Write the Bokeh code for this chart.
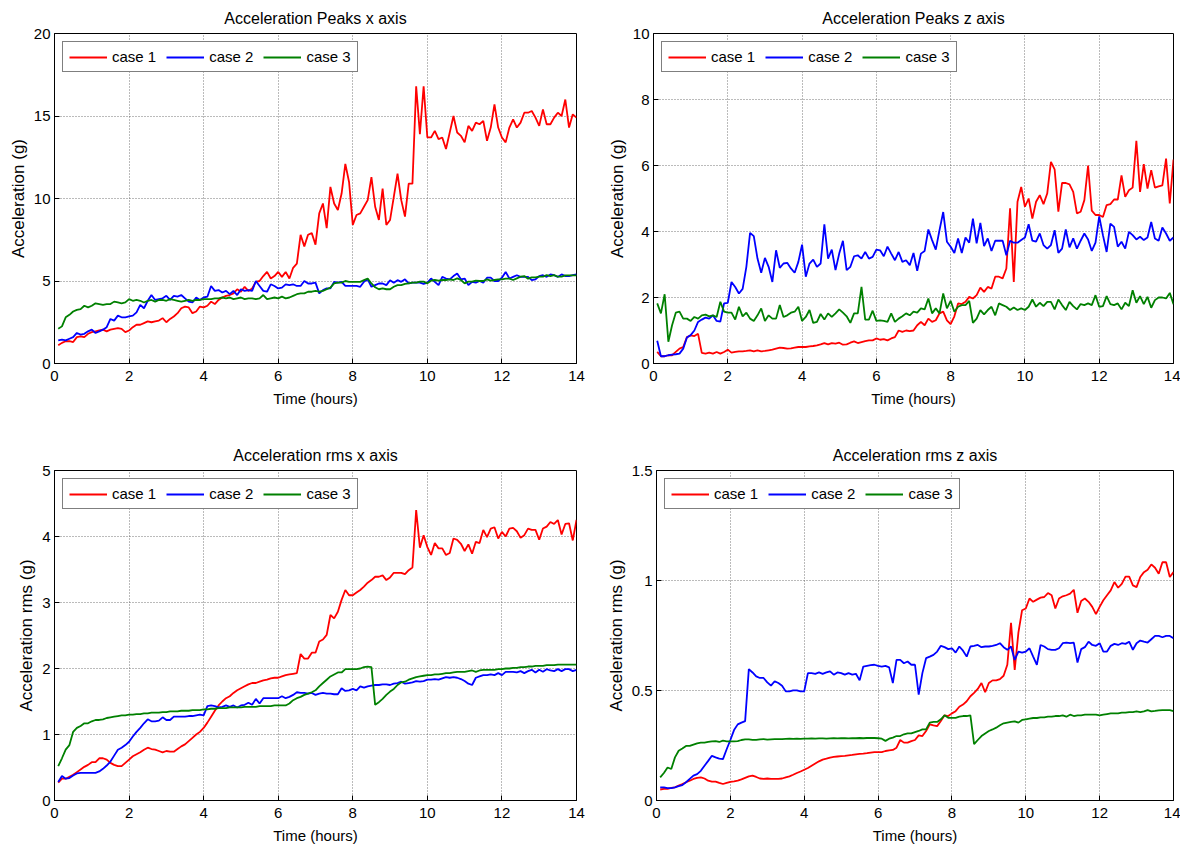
from bokeh.plotting import figure
from bokeh.layouts import column, row
from bokeh.models import Range1d, FixedTicker
from bokeh.embed import file_html
from bokeh.resources import INLINE

# ---------------- data ----------------
TIME_H = [round(0.1 * k, 1) for k in range(1, 141)]
CASES = ["case 1", "case 2", "case 3"]
COLORS = ["#ff0000", "#0000ff", "#008000"]
X_TICKS = [0, 2, 4, 6, 8, 10, 12, 14]

TITLES = ["Acceleration Peaks x axis", "Acceleration Peaks z axis",
          "Acceleration rms x axis", "Acceleration rms z axis"]
YLABELS = ["Acceleration (g)", "Acceleration (g)",
           "Acceleration rms (g)", "Acceleration rms (g)"]
YMAX = [20, 10, 5, 1.5]
Y_TICKS = [[0, 5, 10, 15, 20], [0, 2, 4, 6, 8, 10], [0, 1, 2, 3, 4, 5], [0, 0.5, 1, 1.5]]
Y_TICK_LABELS = [["0", "5", "10", "15", "20"], ["0", "2", "4", "6", "8", "10"],
                 ["0", "1", "2", "3", "4", "5"], ["0", "0.5", "1", "1.5"]]

# Acceleration peaks, x axis
PX_CASE1 = [1.1, 1.25, 1.35, 1.35, 1.3, 1.6, 1.65, 1.6, 1.8, 1.9,
            1.95, 2.0, 2.05, 1.95, 2.05, 2.1, 2.15, 2.1, 1.9, 2.0,
            2.2, 2.35, 2.35, 2.45, 2.55, 2.5, 2.55, 2.6, 2.75, 2.5,
            2.7, 2.85, 3.05, 3.35, 3.45, 3.4, 3.05, 3.15, 3.45, 3.4,
            3.5, 3.75, 3.6, 3.85, 4.0, 4.1, 4.15, 4.25, 4.5, 4.35,
            4.65, 4.4, 4.55, 4.95, 5.0, 5.3, 5.55, 5.15, 5.3, 5.55,
            5.25, 5.55, 5.15, 5.8, 6.05, 7.8, 7.1, 7.8, 7.9, 7.2,
            9.1, 9.7, 8.2, 10.7, 9.7, 9.3, 10.3, 12.1, 11.0, 8.4,
            9.0, 9.1, 9.5, 9.9, 11.3, 9.5, 8.7, 10.6, 8.4, 8.7,
            10.1, 11.5, 9.9, 8.9, 10.9, 10.9, 16.8, 13.9, 16.8, 13.7,
            13.7, 14.1, 13.6, 13.7, 13.0, 14.0, 15.0, 14.0, 13.8, 13.4,
            14.4, 14.1, 14.6, 14.5, 14.7, 13.5, 14.3, 15.7, 14.3, 13.7,
            13.4, 14.3, 14.8, 14.3, 14.6, 15.2, 15.2, 15.3, 14.9, 14.4,
            15.4, 14.5, 14.5, 14.9, 15.2, 15.0, 16.0, 14.3, 15.1, 14.9]
PX_CASE2 = [1.4, 1.45, 1.4, 1.5, 1.6, 1.85, 1.75, 1.8, 1.95, 2.05,
            1.85, 1.95, 2.05, 2.2, 2.7, 2.6, 2.9, 2.8, 2.8, 2.85,
            2.9, 3.1, 3.55, 3.35, 3.8, 4.15, 3.85, 3.9, 3.95, 4.1,
            3.85, 4.1, 4.05, 4.15, 3.95, 3.75, 3.7, 4.0, 3.85, 4.0,
            4.05, 4.7, 4.4, 4.45, 4.3, 4.4, 4.2, 4.4, 4.15, 4.5,
            4.4, 4.45, 4.4, 5.0, 4.7, 4.4, 4.35, 4.8, 4.7, 4.55,
            4.6, 4.8, 4.75, 4.8, 4.7, 4.7, 5.0, 4.85, 4.85, 4.9,
            4.25, 4.45, 4.55, 4.55, 4.95, 4.9, 4.95, 4.7, 4.7, 4.7,
            4.7, 4.65, 4.95, 5.1, 4.65, 4.75, 4.85, 4.85, 4.75, 5.05,
            4.9, 5.05, 4.95, 5.1, 4.85, 4.9, 4.9, 4.9, 4.82, 4.9,
            5.15, 4.95, 4.75, 5.25, 5.15, 5.1, 5.3, 5.45, 5.1, 5.15,
            4.75, 4.95, 4.9, 5.0, 4.9, 5.2, 5.2, 5.0, 5.0, 5.2,
            5.55, 5.15, 5.25, 5.35, 5.25, 5.25, 5.25, 5.05, 5.1, 5.3,
            5.35, 5.25, 5.4, 5.35, 5.25, 5.4, 5.3, 5.3, 5.35, 5.4]
PX_CASE3 = [2.1, 2.25, 2.8, 2.95, 3.15, 3.25, 3.3, 3.5, 3.4, 3.5,
            3.65, 3.6, 3.55, 3.6, 3.6, 3.75, 3.7, 3.65, 3.7, 3.9,
            3.8, 3.85, 3.8, 3.7, 3.8, 3.85, 3.75, 3.85, 3.85, 3.8,
            3.9, 3.85, 3.8, 3.75, 3.8, 3.85, 3.8, 3.85, 3.85, 3.9,
            3.9, 3.9, 3.95, 3.95, 4.0, 3.95, 4.0, 3.9, 3.95, 4.0,
            3.9, 3.95, 3.95, 3.9, 3.95, 4.15, 3.9, 3.95, 4.0, 3.95,
            4.05, 3.95, 4.0, 4.1, 4.2, 4.25, 4.25, 4.35, 4.35, 4.4,
            4.35, 4.4, 4.5, 4.6, 4.85, 4.9, 4.9, 5.0, 4.95, 4.95,
            4.95, 4.95, 5.05, 5.15, 4.85, 4.62, 4.5, 4.55, 4.5, 4.5,
            4.65, 4.75, 4.75, 4.82, 4.86, 4.9, 4.9, 4.96, 4.96, 4.86,
            5.02, 5.06, 5.02, 5.06, 5.06, 5.1, 5.06, 5.16, 5.06, 4.86,
            4.96, 4.96, 5.02, 5.0, 5.0, 5.1, 5.02, 5.06, 5.1, 5.1,
            5.14, 5.14, 5.06, 5.16, 5.26, 5.3, 5.14, 5.22, 5.22, 5.26,
            5.26, 5.36, 5.3, 5.36, 5.26, 5.26, 5.34, 5.34, 5.34, 5.34]

# Acceleration peaks, z axis
PZ_CASE1 = [0.35, 0.22, 0.22, 0.25, 0.25, 0.35, 0.45, 0.5, 0.8, 0.85,
            0.83, 0.9, 0.32, 0.3, 0.33, 0.3, 0.35, 0.3, 0.35, 0.42,
            0.33, 0.35, 0.37, 0.37, 0.38, 0.4, 0.37, 0.4, 0.37, 0.38,
            0.4, 0.42, 0.45, 0.48, 0.47, 0.45, 0.46, 0.48, 0.5, 0.5,
            0.5, 0.52, 0.53, 0.55, 0.58, 0.62, 0.58, 0.62, 0.6, 0.63,
            0.57, 0.58, 0.63, 0.67, 0.62, 0.65, 0.68, 0.7, 0.7, 0.76,
            0.72, 0.74, 0.7, 0.76, 0.8, 1.0, 0.96, 1.0, 0.98, 1.0,
            1.16, 1.26, 1.16, 1.36, 1.26, 1.31, 1.52, 1.57, 1.31, 1.19,
            1.43, 1.82, 1.8, 1.87, 2.02, 1.97, 2.07, 2.3, 2.17, 2.32,
            2.27, 2.63, 2.63, 2.58, 2.88, 4.7, 2.47, 4.9, 5.35, 4.75,
            5.0, 4.39, 4.9, 5.1, 4.83, 5.15, 6.11, 5.88, 4.6, 5.47,
            5.47, 5.43, 5.2, 4.55, 4.6, 4.95, 6.0, 4.63, 4.5, 4.5,
            4.44, 4.8, 4.83, 4.97, 4.97, 5.7, 5.05, 5.25, 5.33, 6.75,
            5.2, 6.04, 5.3, 5.86, 5.33, 5.37, 5.4, 6.21, 4.85, 6.18]
PZ_CASE2 = [0.69, 0.22, 0.22, 0.25, 0.27, 0.28, 0.3, 0.45, 0.79, 0.86,
            1.0, 1.26, 1.33, 1.39, 1.36, 1.46, 1.29, 1.27, 1.82, 1.84,
            2.47, 2.32, 2.12, 2.26, 2.93, 3.96, 3.86, 3.18, 2.75, 3.2,
            2.93, 2.47, 3.43, 2.9, 3.03, 3.05, 2.88, 2.75, 3.08, 3.6,
            2.63, 3.03, 3.15, 2.93, 3.03, 4.22, 3.18, 3.45, 2.83, 3.33,
            3.72, 2.83, 2.93, 3.25, 3.28, 3.18, 3.38, 3.18, 3.23, 3.45,
            3.43, 3.25, 3.54, 3.33, 3.13, 3.38, 3.08, 3.13, 2.98, 3.35,
            2.81, 3.33, 3.41, 4.06, 3.74, 3.45, 4.04, 4.59, 3.69, 3.54,
            3.35, 3.79, 3.35, 3.82, 3.66, 4.39, 3.64, 4.26, 3.56, 3.79,
            3.41, 3.72, 3.72, 3.72, 3.28, 3.72, 3.66, 3.66, 3.74, 3.82,
            4.22, 3.72, 3.69, 3.94, 3.59, 3.48, 3.59, 4.04, 3.35, 3.48,
            4.06, 3.52, 3.79, 3.48, 3.72, 3.94, 3.76, 3.41, 3.66, 4.46,
            3.89, 3.38, 4.24, 4.14, 3.54, 3.69, 3.48, 3.99, 3.89, 3.76,
            3.84, 3.74, 3.82, 4.29, 3.79, 3.72, 4.12, 3.94, 3.72, 3.82]
PZ_CASE3 = [1.82, 1.52, 2.1, 0.66, 1.16, 1.54, 1.57, 1.36, 1.36, 1.29,
            1.41, 1.36, 1.46, 1.48, 1.43, 1.46, 1.41, 1.87, 1.57, 1.54,
            1.54, 1.33, 1.72, 1.43, 1.54, 1.36, 1.29, 1.46, 1.67, 1.29,
            1.46, 1.36, 1.36, 1.77, 1.41, 1.46, 1.54, 1.57, 1.72, 1.29,
            1.41, 1.62, 1.23, 1.26, 1.5, 1.33, 1.52, 1.41, 1.52, 1.64,
            1.54, 1.43, 1.23, 1.52, 1.52, 2.32, 1.33, 1.33, 1.6, 1.29,
            1.31, 1.29, 1.26, 1.52, 1.26, 1.36, 1.43, 1.52, 1.46, 1.57,
            1.54, 1.67, 1.64, 1.97, 1.52, 1.67, 1.52, 2.12, 1.67, 1.9,
            1.57, 1.72, 1.77, 1.77, 1.9, 1.23, 1.36, 1.62, 1.49, 1.62,
            1.72, 1.46, 1.82, 1.77, 1.72, 1.62, 1.7, 1.62, 1.67, 1.62,
            1.72, 1.94, 1.72, 1.84, 1.74, 1.87, 1.87, 1.64, 1.94, 1.77,
            1.62, 1.87, 1.74, 1.64, 1.8, 1.77, 1.82, 1.77, 2.07, 1.72,
            1.74, 2.04, 1.8, 1.77, 1.82, 1.64, 1.84, 1.74, 2.22, 1.84,
            2.04, 1.8, 2.02, 1.69, 1.92, 2.0, 2.0, 1.97, 2.14, 1.8]

# Acceleration rms, x axis
RX_CASE1 = [0.27, 0.33, 0.33, 0.36, 0.39, 0.43, 0.47, 0.51, 0.54, 0.58,
            0.58, 0.64, 0.64, 0.62, 0.57, 0.54, 0.52, 0.52, 0.57, 0.62,
            0.67, 0.7, 0.73, 0.77, 0.8, 0.78, 0.77, 0.75, 0.73, 0.75,
            0.74, 0.74, 0.78, 0.82, 0.85, 0.9, 0.95, 1.0, 1.04, 1.1,
            1.18, 1.27, 1.36, 1.44, 1.5, 1.55, 1.58, 1.63, 1.67, 1.7,
            1.73, 1.76, 1.78, 1.78, 1.8, 1.82, 1.83, 1.85, 1.86, 1.86,
            1.88, 1.9, 1.91, 1.92, 1.93, 2.22, 2.15, 2.15, 2.24, 2.24,
            2.41, 2.44, 2.51, 2.81, 2.76, 2.86, 3.04, 3.19, 3.11, 3.11,
            3.15, 3.19, 3.24, 3.3, 3.34, 3.39, 3.39, 3.41, 3.34, 3.38,
            3.45, 3.45, 3.45, 3.43, 3.49, 3.53, 4.4, 3.83, 4.02, 3.84,
            3.72, 3.9, 3.82, 3.82, 3.72, 3.75, 3.97, 3.95, 3.89, 3.78,
            3.88, 3.74, 3.92, 3.9, 4.1, 3.99, 4.12, 4.14, 3.97, 4.07,
            4.0, 4.12, 4.13, 4.08, 3.98, 4.02, 4.12, 4.1, 4.1, 3.95,
            4.12, 4.15, 4.22, 4.19, 4.25, 4.03, 4.19, 4.2, 3.94, 4.25]
RX_CASE2 = [0.28, 0.37, 0.33, 0.34, 0.38, 0.41, 0.42, 0.42, 0.42, 0.42,
            0.42, 0.44, 0.48, 0.53, 0.59, 0.68, 0.77, 0.8, 0.84, 0.89,
            0.97, 1.04, 1.1, 1.17, 1.23, 1.2, 1.2, 1.21, 1.26, 1.22,
            1.22, 1.27, 1.27, 1.27, 1.27, 1.28, 1.28, 1.29, 1.3, 1.29,
            1.43, 1.44, 1.43, 1.41, 1.42, 1.44, 1.42, 1.44, 1.41, 1.44,
            1.45, 1.48, 1.45, 1.54, 1.47, 1.55, 1.55, 1.55, 1.55, 1.55,
            1.58, 1.55, 1.57, 1.6, 1.64, 1.63, 1.63, 1.62, 1.63, 1.6,
            1.62, 1.63, 1.62, 1.62, 1.61, 1.61, 1.7, 1.66, 1.67, 1.69,
            1.67, 1.73, 1.71, 1.73, 1.74, 1.75, 1.75, 1.76, 1.76, 1.75,
            1.77, 1.78, 1.8, 1.77, 1.78, 1.79, 1.81, 1.8, 1.81, 1.83,
            1.83, 1.84, 1.83, 1.85, 1.87, 1.86, 1.87, 1.86, 1.84, 1.81,
            1.77, 1.75, 1.86, 1.88, 1.9, 1.9, 1.91, 1.9, 1.93, 1.9,
            1.95, 1.95, 1.95, 1.94, 1.96, 1.93, 1.96, 1.98, 1.94, 1.98,
            1.95, 1.99, 1.97, 1.96, 1.99, 1.96, 1.99, 1.99, 1.96, 1.98]
RX_CASE3 = [0.52, 0.64, 0.77, 0.84, 1.04, 1.1, 1.13, 1.17, 1.17, 1.2,
            1.22, 1.22, 1.23, 1.25, 1.26, 1.27, 1.28, 1.29, 1.29, 1.3,
            1.3, 1.31, 1.31, 1.32, 1.32, 1.33, 1.33, 1.33, 1.34, 1.34,
            1.35, 1.35, 1.35, 1.36, 1.36, 1.36, 1.37, 1.37, 1.37, 1.38,
            1.38, 1.39, 1.39, 1.4, 1.4, 1.4, 1.41, 1.41, 1.41, 1.41,
            1.42, 1.42, 1.42, 1.42, 1.43, 1.43, 1.43, 1.43, 1.44, 1.44,
            1.44, 1.44, 1.47, 1.52, 1.55, 1.57, 1.6, 1.62, 1.64, 1.67,
            1.73, 1.78, 1.83, 1.88, 1.91, 1.94, 1.94, 1.99, 1.99, 1.99,
            1.99, 2.0, 2.02, 2.03, 2.02, 1.45, 1.49, 1.54, 1.6, 1.65,
            1.69, 1.75, 1.79, 1.8, 1.83, 1.85, 1.87, 1.88, 1.89, 1.9,
            1.9, 1.91, 1.91, 1.92, 1.93, 1.93, 1.94, 1.95, 1.95, 1.95,
            1.96, 1.97, 1.95, 1.97, 1.98, 1.98, 1.98, 1.98, 1.99, 1.99,
            2.0, 2.0, 2.01, 2.01, 2.02, 2.02, 2.03, 2.03, 2.04, 2.04,
            2.04, 2.05, 2.05, 2.05, 2.06, 2.06, 2.06, 2.06, 2.06, 2.06]

# Acceleration rms, z axis
RZ_CASE1 = [0.05, 0.053, 0.053, 0.057, 0.06, 0.068, 0.075, 0.083, 0.09, 0.098,
            0.103, 0.105, 0.1, 0.09, 0.086, 0.086, 0.08, 0.075, 0.08, 0.085,
            0.087, 0.09, 0.096, 0.103, 0.11, 0.113, 0.107, 0.1, 0.098, 0.1,
            0.098, 0.098, 0.098, 0.1, 0.105, 0.11, 0.117, 0.125, 0.132, 0.14,
            0.148, 0.158, 0.168, 0.178, 0.186, 0.19, 0.195, 0.198, 0.2, 0.202,
            0.203, 0.205, 0.207, 0.21, 0.212, 0.213, 0.215, 0.218, 0.22, 0.22,
            0.22, 0.225, 0.228, 0.23, 0.24, 0.275, 0.263, 0.263, 0.27, 0.275,
            0.296, 0.293, 0.316, 0.346, 0.341, 0.338, 0.361, 0.387, 0.384, 0.396,
            0.406, 0.426, 0.436, 0.451, 0.474, 0.489, 0.507, 0.534, 0.492, 0.534,
            0.546, 0.546, 0.552, 0.567, 0.617, 0.808, 0.594, 0.763, 0.865, 0.873,
            0.918, 0.903, 0.913, 0.922, 0.925, 0.943, 0.933, 0.873, 0.918, 0.928,
            0.933, 0.94, 0.958, 0.853, 0.907, 0.918, 0.903, 0.88, 0.847, 0.88,
            0.91, 0.933, 0.955, 0.993, 0.967, 0.985, 1.018, 1.018, 0.978, 0.97,
            1.016, 1.038, 1.049, 1.073, 1.058, 1.031, 1.083, 1.083, 1.016, 1.038]
RZ_CASE2 = [0.06, 0.06, 0.056, 0.056, 0.06, 0.065, 0.07, 0.083, 0.098, 0.113,
            0.12, 0.135, 0.158, 0.18, 0.203, 0.196, 0.19, 0.188, 0.233, 0.275,
            0.32, 0.346, 0.354, 0.361, 0.597, 0.582, 0.564, 0.557, 0.557, 0.537,
            0.522, 0.542, 0.534, 0.522, 0.496, 0.496, 0.501, 0.501, 0.496, 0.496,
            0.579, 0.579, 0.576, 0.582, 0.576, 0.582, 0.587, 0.572, 0.582, 0.579,
            0.572, 0.579, 0.572, 0.576, 0.546, 0.609, 0.612, 0.615, 0.617, 0.612,
            0.609, 0.612, 0.605, 0.534, 0.639, 0.639, 0.624, 0.632, 0.617, 0.617,
            0.481, 0.579, 0.647, 0.654, 0.662, 0.677, 0.703, 0.697, 0.688, 0.692,
            0.672, 0.7, 0.681, 0.654, 0.7, 0.703, 0.707, 0.697, 0.7, 0.7,
            0.703, 0.707, 0.715, 0.697, 0.685, 0.7, 0.639, 0.677, 0.672, 0.677,
            0.692, 0.654, 0.617, 0.707, 0.7, 0.688, 0.685, 0.685, 0.692, 0.715,
            0.718, 0.715, 0.718, 0.627, 0.688, 0.697, 0.722, 0.707, 0.703, 0.715,
            0.677, 0.677, 0.703, 0.712, 0.707, 0.715, 0.712, 0.722, 0.685, 0.715,
            0.727, 0.722, 0.718, 0.733, 0.748, 0.748, 0.742, 0.748, 0.748, 0.737]
RZ_CASE3 = [0.105, 0.125, 0.15, 0.143, 0.196, 0.226, 0.236, 0.248, 0.248, 0.254,
            0.26, 0.263, 0.263, 0.266, 0.269, 0.27, 0.266, 0.272, 0.269, 0.269,
            0.269, 0.27, 0.275, 0.278, 0.278, 0.276, 0.276, 0.278, 0.279, 0.277,
            0.278, 0.279, 0.279, 0.279, 0.28, 0.281, 0.28, 0.281, 0.28, 0.281,
            0.281, 0.282, 0.281, 0.282, 0.282, 0.281, 0.282, 0.283, 0.282, 0.283,
            0.283, 0.282, 0.283, 0.283, 0.284, 0.283, 0.284, 0.284, 0.284, 0.283,
            0.281, 0.271, 0.281, 0.286, 0.293, 0.293, 0.301, 0.305, 0.305, 0.311,
            0.316, 0.323, 0.323, 0.354, 0.357, 0.357, 0.369, 0.387, 0.376, 0.376,
            0.376, 0.381, 0.384, 0.384, 0.387, 0.256, 0.275, 0.293, 0.305, 0.316,
            0.323, 0.331, 0.342, 0.351, 0.354, 0.357, 0.36, 0.354, 0.366, 0.369,
            0.372, 0.375, 0.375, 0.378, 0.378, 0.381, 0.381, 0.384, 0.384, 0.387,
            0.381, 0.39, 0.384, 0.387, 0.387, 0.39, 0.39, 0.39, 0.39, 0.387,
            0.39, 0.393, 0.396, 0.396, 0.396, 0.399, 0.399, 0.402, 0.402, 0.405,
            0.402, 0.405, 0.411, 0.405, 0.407, 0.41, 0.411, 0.411, 0.411, 0.406]

SERIES = [[PX_CASE1, PX_CASE2, PX_CASE3],
          [PZ_CASE1, PZ_CASE2, PZ_CASE3],
          [RX_CASE1, RX_CASE2, RX_CASE3],
          [RZ_CASE1, RZ_CASE2, RZ_CASE3]]

FONT = "Liberation Sans"


def make_panel(i, width, height, bl, br, bt, bb):
    p = figure(width=width, height=height,
               x_range=Range1d(0, 14), y_range=Range1d(0, YMAX[i]),
               output_backend="svg", toolbar_location=None,
               min_border_left=bl, min_border_right=br,
               min_border_top=bt, min_border_bottom=bb,
               background_fill_color="white", border_fill_color="white")
    p.title.text = TITLES[i]
    p.title.align = "center"
    p.title.text_font = FONT
    p.title.text_font_size = "16px"
    p.title.text_font_style = "normal"
    p.title.text_color = "black"
    p.title.standoff = 13

    for k in range(3):
        p.line(TIME_H, SERIES[i][k], line_color=COLORS[k], line_width=1.8,
               legend_label=CASES[k])

    p.outline_line_color = "black"
    p.outline_line_width = 1
    p.outline_line_alpha = 1

    xax = p.below[0]
    yax = p.left[0]
    xax.ticker = FixedTicker(ticks=X_TICKS)
    yax.ticker = FixedTicker(ticks=Y_TICKS[i])
    yax.major_label_overrides = {t: s for t, s in zip(Y_TICKS[i], Y_TICK_LABELS[i])}
    xax.axis_label = "Time (hours)"
    yax.axis_label = YLABELS[i]
    for ax in (xax, yax):
        ax.axis_line_color = "black"
        ax.axis_line_width = 1
        ax.major_tick_in = 5
        ax.major_tick_out = 0
        ax.major_tick_line_color = "black"
        ax.minor_tick_line_color = None
        ax.major_label_text_font = FONT
        ax.major_label_text_font_size = "15px"
        ax.major_label_text_color = "black"
        ax.axis_label_text_font = FONT
        ax.axis_label_text_font_style = "normal"
        ax.axis_label_text_color = "black"
    xax.axis_label_text_font_size = "15px"
    yax.axis_label_text_font_size = "17px"
    xax.major_label_standoff = 7
    xax.axis_label_standoff = 6
    yax.major_label_standoff = 4
    yax.axis_label_standoff = 3

    for g in (p.xgrid[0], p.ygrid[0]):
        g.grid_line_color = "#555555"
        g.grid_line_dash = "1 2"
        g.grid_line_width = 1
        g.grid_line_alpha = 0.8

    lg = p.legend[0]
    lg.location = "top_left"
    lg.orientation = "horizontal"
    lg.margin = 8
    lg.padding = 6
    lg.spacing = 10
    lg.glyph_width = 38
    lg.glyph_height = 14
    lg.label_standoff = 5
    lg.label_text_font = FONT
    lg.label_text_font_size = "15px"
    lg.label_text_color = "black"
    lg.border_line_color = "black"
    lg.border_line_width = 1.2
    lg.background_fill_color = "white"
    lg.background_fill_alpha = 1
    return p


p1 = make_panel(0, 603, 437, 54, 27, 33, 74)
p2 = make_panel(1, 577, 437, 50, 7, 33, 74)
p3 = make_panel(2, 603, 409, 54, 27, 33, 45)
p4 = make_panel(3, 577, 409, 50, 7, 33, 45)

layout = column(row(p1, p2), row(p3, p4))

open("out.html", "w").write(file_html(layout, INLINE))
